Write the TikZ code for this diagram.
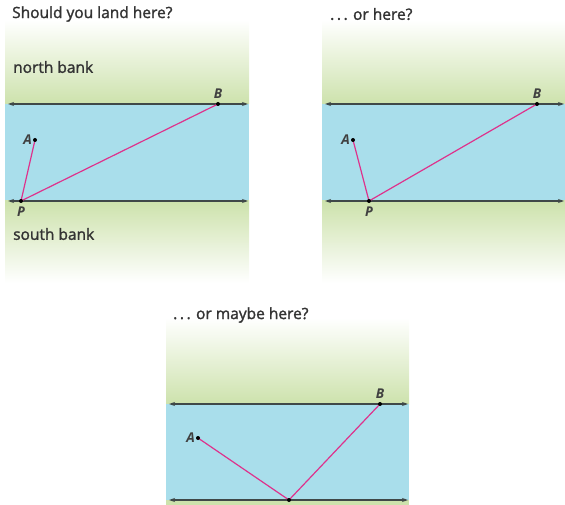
\documentclass[tikz,border=0pt]{standalone}
\usepackage{fontspec}
\setmainfont{Open Sans}
\newfontfamily\capfont[FakeBold=1.6]{Open Sans}
\usepackage{xcolor}
\usetikzlibrary{arrows.meta,positioning}

\definecolor{river}{HTML}{A9DEEB}
\definecolor{bankgreen}{HTML}{CDE2AC}
\definecolor{routepink}{HTML}{DE328C}
\definecolor{shoregray}{HTML}{3F4848}

\begin{document}
\begin{tikzpicture}[x=1pt,y=-1pt,
  shore/.style={{Stealth[length=6pt,width=4pt]}-{Stealth[length=6pt,width=4pt]},shoregray,line width=1.1pt},
  route/.style={routepink,line width=1.2pt},
  ptlabel/.style={font=\fontsize{13.5}{15}\selectfont\bfseries\itshape,text=black!75,inner sep=1pt},
  caption/.style={anchor=west,font=\capfont\fontsize{15.5}{17}\selectfont,text=black!80,inner sep=0pt}]
  \useasboundingbox (0,0) rectangle (565,505);

  % first crossing: land far west
  \begin{scope}[shift={(5,104)}]
    \shade[top color=white,bottom color=bankgreen] (0,-84) rectangle (244,0);
    \fill[river] (0,0) rectangle (244,97);
    \shade[top color=bankgreen,bottom color=white] (0,97) rectangle (244,179);
    \coordinate (n1w) at (3,0);  \coordinate (n1e) at (243,0);
    \coordinate (s1w) at (3,97); \coordinate (s1e) at (243,97);
    \draw[shore] (n1w) -- (n1e);
    \draw[shore] (s1w) -- (s1e);
    \coordinate (A1) at (30,36);
    \coordinate (B1) at (213,0);
    \coordinate (P1) at (16,97);
    \draw[route] (A1) -- (P1) -- (B1);
    \foreach \p in {A1,B1,P1} \fill (\p) circle (2pt);
    \node[ptlabel,left=2pt of A1] {A};
    \node[ptlabel,above=4pt of B1] {B};
    \node[ptlabel,below=5pt of P1] {P};
  \end{scope}
  \node[caption] (t1) at (12,14) {Should you land here?};
  \node[caption] (nb) at (13,67) {north bank};
  \node[caption] (sb) at (13,234) {south bank};

  % second crossing
  \begin{scope}[shift={(322,104)}]
    \shade[top color=white,bottom color=bankgreen] (0,-84) rectangle (243,0);
    \fill[river] (0,0) rectangle (243,97);
    \shade[top color=bankgreen,bottom color=white] (0,97) rectangle (243,179);
    \coordinate (n2w) at (3,0);  \coordinate (n2e) at (242,0);
    \coordinate (s2w) at (3,97); \coordinate (s2e) at (242,97);
    \draw[shore] (n2w) -- (n2e);
    \draw[shore] (s2w) -- (s2e);
    \coordinate (A2) at (31,36);
    \coordinate (B2) at (215,0);
    \coordinate (P2) at (47,97);
    \draw[route] (A2) -- (P2) -- (B2);
    \foreach \p in {A2,B2,P2} \fill (\p) circle (2pt);
    \node[ptlabel,left=2pt of A2] {A};
    \node[ptlabel,above=4pt of B2] {B};
    \node[ptlabel,below=5pt of P2] {P};
  \end{scope}
  \node[caption] (t2) at (330,14) {.\,.\,. or here?};

  % third crossing
  \begin{scope}[shift={(166,404)}]
    \shade[top color=white,bottom color=bankgreen] (0,-86) rectangle (243,0);
    \fill[river] (0,0) rectangle (243,96);
    \fill[bankgreen] (0,96) rectangle (243,101);
    \coordinate (n3w) at (3,0);  \coordinate (n3e) at (242,0);
    \coordinate (s3w) at (3,96); \coordinate (s3e) at (242,96);
    \draw[shore] (n3w) -- (n3e);
    \draw[shore] (s3w) -- (s3e);
    \coordinate (A3) at (32,34);
    \coordinate (B3) at (214,0);
    \coordinate (P3) at (123,96);
    \draw[route] (A3) -- (P3) -- (B3);
    \foreach \p in {A3,B3,P3} \fill (\p) circle (2pt);
    \node[ptlabel,left=2pt of A3] {A};
    \node[ptlabel,above=4pt of B3] {B};
  \end{scope}
  \node[caption] (t3) at (173,315) {.\,.\,. or maybe here?};
\end{tikzpicture}
\end{document}
